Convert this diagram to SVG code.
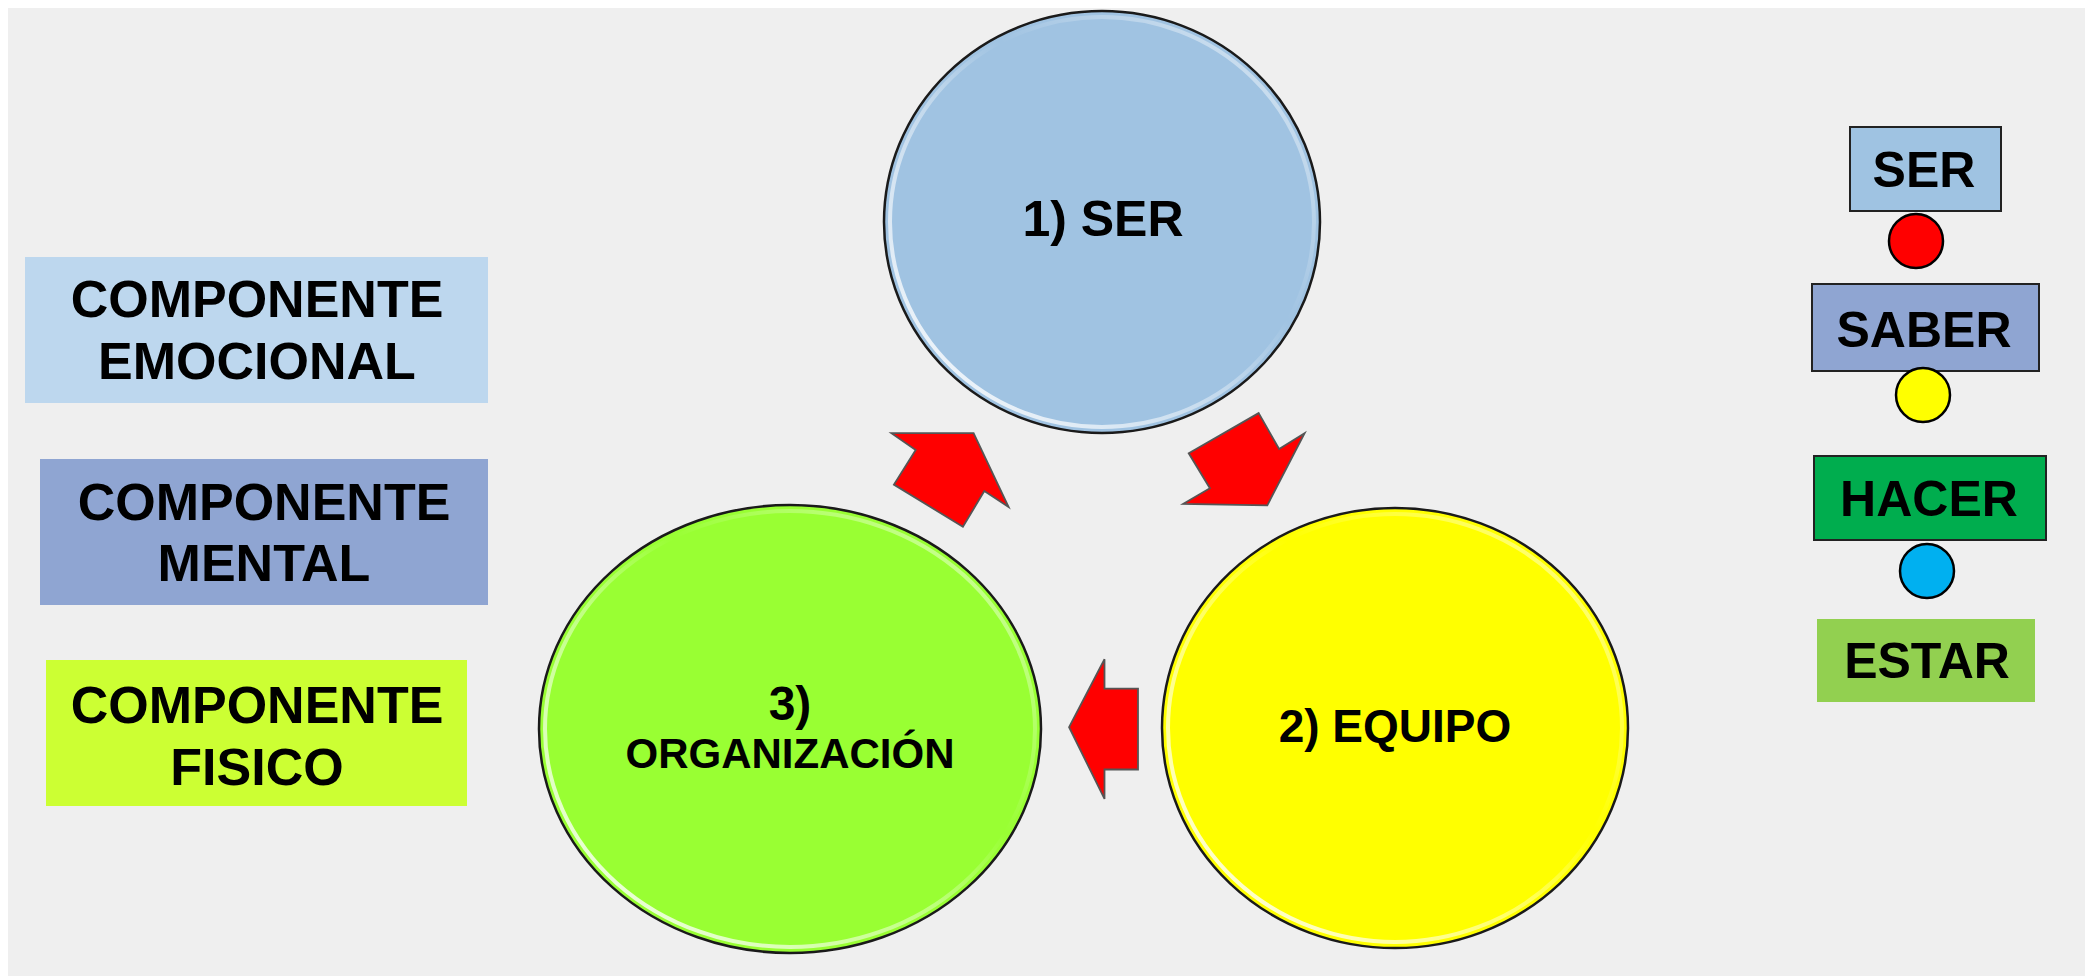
<svg xmlns="http://www.w3.org/2000/svg" width="2087" height="976" viewBox="0 0 2087 976">
  <style>
    .t{font-family:"Liberation Sans",Arial,sans-serif;font-weight:bold;fill:#000;text-anchor:middle}
    .big{font-size:52px}
    .leg{font-size:50px}
    .circ{stroke:#1a1a1a;stroke-width:2.5}
    .bev{fill:none;stroke:url(#hl);stroke-width:4}
    .arrow{fill:#ff0000;stroke:#555;stroke-width:1.8;stroke-linejoin:miter}
    .lbox{stroke:#222;stroke-width:2}
    .dot{stroke:#000;stroke-width:2.5}
  </style>
  <defs>
    <linearGradient id="hl" x1="0" y1="1" x2="1" y2="0">
      <stop offset="0" stop-color="#fff" stop-opacity="1"/>
      <stop offset="0.45" stop-color="#fff" stop-opacity="0.35"/>
      <stop offset="0.6" stop-color="#fff" stop-opacity="0"/>
      <stop offset="0.9" stop-color="#fff" stop-opacity="0.5"/>
      <stop offset="1" stop-color="#fff" stop-opacity="0.8"/>
    </linearGradient>
  </defs>

  <rect x="0" y="0" width="2087" height="976" fill="#ffffff"/>
  <rect x="8" y="8" width="2077" height="968" fill="#efefef"/>

  <g id="comp-emocional">
    <rect x="25" y="257" width="463" height="146" fill="#bdd7ee"/>
    <text class="t big" x="257" y="317">COMPONENTE</text>
    <text class="t big" x="257" y="379">EMOCIONAL</text>
  </g>
  <g id="comp-mental">
    <rect x="40" y="459" width="448" height="146" fill="#8fa5d2"/>
    <text class="t big" x="264" y="520">COMPONENTE</text>
    <text class="t big" x="264" y="581">MENTAL</text>
  </g>
  <g id="comp-fisico">
    <rect x="46" y="660" width="421" height="146" fill="#ccff33"/>
    <text class="t big" x="257" y="723">COMPONENTE</text>
    <text class="t big" x="257" y="785">FISICO</text>
  </g>

  <g id="node-ser">
    <ellipse class="circ" cx="1102" cy="222" rx="218" ry="211" fill="#a0c3e2"/>
    <ellipse class="bev" cx="1102" cy="222" rx="212" ry="205"/>
    <text class="t" style="font-size:50px" x="1103" y="236">1) SER</text>
  </g>
  <g id="node-equipo">
    <ellipse class="circ" cx="1395" cy="728" rx="233" ry="220" fill="#ffff00"/>
    <ellipse class="bev" cx="1395" cy="728" rx="227" ry="214"/>
    <text class="t" style="font-size:46px" x="1395" y="742">2) EQUIPO</text>
  </g>
  <g id="node-organizacion">
    <ellipse class="circ" cx="790" cy="729" rx="251" ry="224" fill="#99ff33"/>
    <ellipse class="bev" cx="790" cy="729" rx="245" ry="218"/>
    <text class="t" style="font-size:48px" x="790" y="720">3)</text>
    <text class="t" style="font-size:42px" x="790" y="768">ORGANIZACIÓN</text>
  </g>

  <g id="connectors">
    <polygon class="arrow" points="891.4,433.2 973.6,433.2 1008.6,507.1 984.3,491.1 962.9,526.8 893.9,484.6 915.7,450"/>
    <polygon class="arrow" points="1258.7,413.1 1279.1,449 1304.6,433.2 1267.3,505.3 1183.2,503.8 1209.9,488.2 1188.7,453.3"/>
    <polygon class="arrow" points="1069.1,727.2 1104.5,659.2 1104.5,688.6 1138,688.6 1138,769.5 1104.5,769.5 1104.5,798.9"/>
  </g>

  <g id="legend-ser">
    <rect class="lbox" x="1850" y="127" width="151" height="84" fill="#9fc3e2"/>
    <text class="t leg" x="1924" y="187">SER</text>
  </g>
  <g id="legend-dot-red">
    <circle class="dot" cx="1916" cy="241" r="27" fill="#ff0000"/>
  </g>
  <g id="legend-saber">
    <rect class="lbox" x="1812" y="284" width="227" height="87" fill="#8fa5d2"/>
    <text class="t leg" x="1924" y="347">SABER</text>
  </g>
  <g id="legend-dot-yellow">
    <circle class="dot" cx="1923" cy="395" r="27" fill="#ffff00"/>
  </g>
  <g id="legend-hacer">
    <rect class="lbox" x="1814" y="456" width="232" height="84" fill="#00ad4e"/>
    <text class="t leg" x="1929" y="516">HACER</text>
  </g>
  <g id="legend-dot-blue">
    <circle class="dot" cx="1927" cy="571" r="27" fill="#00b0f0"/>
  </g>
  <g id="legend-estar">
    <rect x="1817" y="619" width="218" height="83" fill="#92d050"/>
    <text class="t leg" x="1927" y="678">ESTAR</text>
  </g>
</svg>
